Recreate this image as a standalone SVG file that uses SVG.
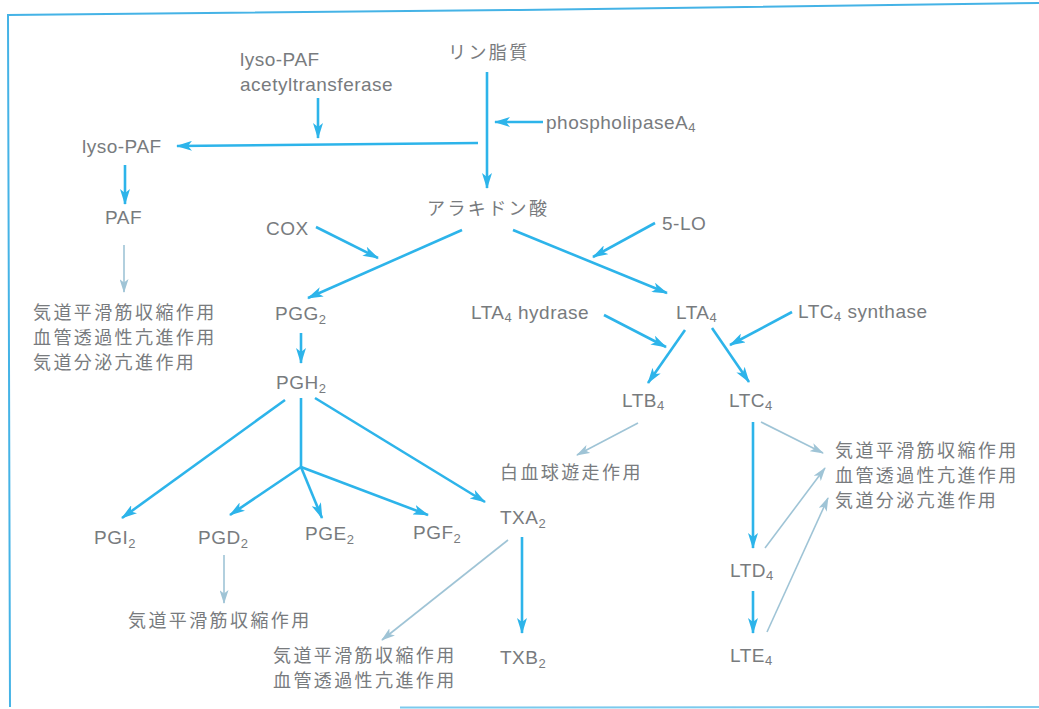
<svg xmlns="http://www.w3.org/2000/svg" width="1039" height="709" viewBox="0 0 1039 709">
<defs>
<style>
.t{font-family:"Liberation Sans",Arial,sans-serif;font-size:19px;letter-spacing:0.5px;fill:#787b7e}
.j{font-family:"Noto Sans CJK JP","Liberation Sans",sans-serif;font-size:18px;letter-spacing:2.4px;fill:#787b7e}
.s{font-size:13px}
.a{stroke:#2db4ea;stroke-width:2.6;fill:none;marker-end:url(#ah)}
.l{stroke:#9fc4d6;stroke-width:1.6;fill:none;marker-end:url(#al)}
.frame{stroke:#45b3e6;stroke-width:2;fill:none}
</style>
<marker id="ah" viewBox="0 0 16 10" refX="15" refY="5" markerWidth="16" markerHeight="10" markerUnits="userSpaceOnUse" orient="auto">
<path d="M0,0 L16,5 L0,10 L4,5 z" fill="#2db4ea"/>
</marker>
<marker id="al" viewBox="0 0 14 9" refX="13" refY="4.5" markerWidth="14" markerHeight="9" markerUnits="userSpaceOnUse" orient="auto">
<path d="M0,0 L14,4.5 L0,9 L3.5,4.5 z" fill="#9fc4d6"/>
</marker>
</defs>
<rect width="1039" height="709" fill="#ffffff"/>
<g id="frame">
<polyline class="frame" points="1039,3 520,10 8,15 10,707"/>
<line class="frame" x1="400" y1="707.5" x2="1039" y2="707" stroke-opacity="0.7"/>
</g>
<g id="connectors">
<line class="a" x1="487" y1="72" x2="487" y2="188"/>
<line class="a" x1="543" y1="122" x2="495" y2="122"/>
<line class="a" x1="478" y1="143" x2="177" y2="146"/>
<line class="a" x1="318" y1="98" x2="318" y2="138"/>
<line class="a" x1="125" y1="165" x2="125" y2="204"/>
<line class="l" x1="124" y1="245" x2="124" y2="292"/>
<line class="a" x1="316" y1="227" x2="378" y2="258"/>
<line class="a" x1="462" y1="230" x2="308" y2="298"/>
<line class="a" x1="513" y1="230" x2="667" y2="293"/>
<line class="a" x1="655" y1="223" x2="593" y2="257"/>
<line class="a" x1="301" y1="333" x2="301" y2="363"/>
<line class="a" x1="285" y1="400" x2="122" y2="518"/>
<polyline class="a" points="301,398 301,467" style="marker-end:none"/>
<line class="a" x1="301" y1="467" x2="230" y2="515"/>
<line class="a" x1="301" y1="467" x2="322" y2="518"/>
<line class="a" x1="301" y1="467" x2="428" y2="515"/>
<line class="a" x1="315" y1="398" x2="485" y2="502"/>
<line class="l" x1="224" y1="555" x2="224" y2="603"/>
<line class="l" x1="508" y1="540" x2="382" y2="640"/>
<line class="a" x1="522" y1="537" x2="522" y2="633"/>
<line class="a" x1="604" y1="315" x2="666" y2="347"/>
<line class="a" x1="792" y1="312" x2="730" y2="345"/>
<line class="a" x1="685" y1="330" x2="648" y2="383"/>
<line class="a" x1="712" y1="328" x2="749" y2="382"/>
<line class="l" x1="638" y1="423" x2="577" y2="455"/>
<line class="l" x1="761" y1="422" x2="823" y2="453"/>
<line class="a" x1="753" y1="422" x2="753" y2="548"/>
<line class="l" x1="765" y1="548" x2="825" y2="468"/>
<line class="a" x1="753" y1="591" x2="753" y2="633"/>
<line class="l" x1="767" y1="632" x2="828" y2="498"/>
</g>
<g id="n-phospholipid"><text class="j" x="448" y="59">リン脂質</text></g>
<g id="n-lysopaf-at"><text class="t" x="240" y="66">lyso-PAF</text><text class="t" x="240" y="91">acetyltransferase</text></g>
<g id="n-pla"><text class="t" x="546" y="129">phospholipaseA<tspan class="s" dy="3">4</tspan></text></g>
<g id="n-lysopaf"><text class="t" x="82" y="153">lyso-PAF</text></g>
<g id="n-paf"><text class="t" x="105" y="224">PAF</text></g>
<g id="n-paf-eff"><text class="j" x="33" y="319">気道平滑筋収縮作用</text><text class="j" x="33" y="344">血管透過性亢進作用</text><text class="j" x="33" y="369">気道分泌亢進作用</text></g>
<g id="n-aa"><text class="j" x="427" y="215">アラキドン酸</text></g>
<g id="n-cox"><text class="t" x="266" y="235">COX</text></g>
<g id="n-5lo"><text class="t" x="662" y="230">5-LO</text></g>
<g id="n-pgg2"><text class="t" x="275" y="320">PGG<tspan class="s" dy="4">2</tspan></text></g>
<g id="n-pgh2"><text class="t" x="276" y="389">PGH<tspan class="s" dy="4">2</tspan></text></g>
<g id="n-pgi2"><text class="t" x="94" y="544">PGI<tspan class="s" dy="4">2</tspan></text></g>
<g id="n-pgd2"><text class="t" x="198" y="544">PGD<tspan class="s" dy="4">2</tspan></text></g>
<g id="n-pge2"><text class="t" x="305" y="540">PGE<tspan class="s" dy="4">2</tspan></text></g>
<g id="n-pgf2"><text class="t" x="413" y="539">PGF<tspan class="s" dy="4">2</tspan></text></g>
<g id="n-pgd2-eff"><text class="j" x="128" y="627">気道平滑筋収縮作用</text></g>
<g id="n-txa2"><text class="t" x="500" y="524">TXA<tspan class="s" dy="4">2</tspan></text></g>
<g id="n-txa2-eff"><text class="j" x="273" y="662">気道平滑筋収縮作用</text><text class="j" x="273" y="687">血管透過性亢進作用</text></g>
<g id="n-txb2"><text class="t" x="500" y="664">TXB<tspan class="s" dy="4">2</tspan></text></g>
<g id="n-lta4h"><text class="t" x="471" y="319">LTA<tspan class="s" dy="3">4</tspan><tspan dy="-3"> hydrase</tspan></text></g>
<g id="n-lta4"><text class="t" x="676" y="319">LTA<tspan class="s" dy="3">4</tspan></text></g>
<g id="n-ltc4s"><text class="t" x="798" y="318">LTC<tspan class="s" dy="3">4</tspan><tspan dy="-3"> synthase</tspan></text></g>
<g id="n-ltb4"><text class="t" x="622" y="407">LTB<tspan class="s" dy="3">4</tspan></text></g>
<g id="n-ltc4"><text class="t" x="729" y="407">LTC<tspan class="s" dy="3">4</tspan></text></g>
<g id="n-ltb4-eff"><text class="j" x="500" y="479">白血球遊走作用</text></g>
<g id="n-ltd4"><text class="t" x="730" y="577">LTD<tspan class="s" dy="3">4</tspan></text></g>
<g id="n-lte4"><text class="t" x="730" y="662">LTE<tspan class="s" dy="3">4</tspan></text></g>
<g id="n-lt-eff"><text class="j" x="835" y="457">気道平滑筋収縮作用</text><text class="j" x="835" y="482">血管透過性亢進作用</text><text class="j" x="835" y="507">気道分泌亢進作用</text></g>
</svg>
